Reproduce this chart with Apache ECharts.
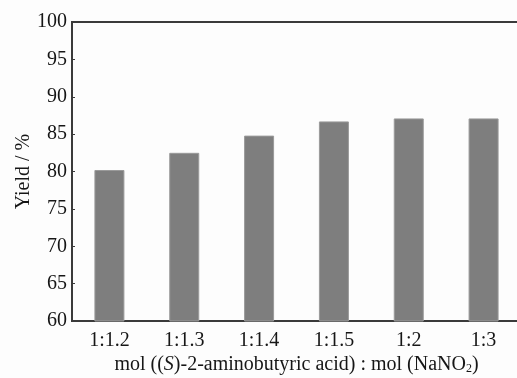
<!DOCTYPE html>
<html>
<head>
<meta charset="utf-8">
<script src="https://cdn.jsdelivr.net/npm/echarts@6/dist/echarts.min.js"></script>
<style>
  html, body { margin: 0; padding: 0; background: #fdfdfd; }
  #chart { width: 517px; height: 378px; }
</style>
</head>
<body>
<div id="chart"></div>
<script>
// ratio mol((S)-2-aminobutyric acid) : mol(NaNO2)
const ratios = ['1:1.2', '1:1.3', '1:1.4', '1:1.5', '1:2', '1:3'];
const yields = [80.2, 82.5, 84.8, 86.7, 87.1, 87.1];

const serif = '"Liberation Serif", "DejaVu Serif", serif';
const ink = '#161616';

const chart = echarts.init(document.getElementById('chart'));

const option = {
    backgroundColor: '#fdfdfd',
    animation: false,
    grid: {
        left: 72, top: 22, right: -4, bottom: 57,
        containLabel: false, outerBoundsMode: 'none',
        show: true, borderColor: '#3a3a3a', borderWidth: 2, backgroundColor: 'transparent'
    },
    xAxis: {
        type: 'category',
        data: ratios,
        axisLine: { show: true, lineStyle: { color: '#3a3a3a', width: 2 } },
        axisTick: { show: false },
        axisLabel: { color: ink, fontFamily: serif, fontSize: 20, margin: 10 },
        name: '{n|mol ((}{i|S}{n|)-2-aminobutyric acid) : mol (NaNO}{s|2}{n|)}',
        nameLocation: 'middle',
        nameGap: 33,
        nameMoveOverlap: false,
        nameTextStyle: {
            rich: {
                n: { fontFamily: serif, fontSize: 20, color: ink },
                i: { fontFamily: serif, fontSize: 20, color: ink, fontStyle: 'italic' },
                s: { fontFamily: serif, fontSize: 12, color: ink, padding: [9, 0, 0, 0] }
            }
        }
    },
    yAxis: {
        type: 'value',
        min: 60,
        max: 100,
        interval: 5,
        name: 'Yield / %',
        nameLocation: 'middle',
        nameGap: 38,
        nameMoveOverlap: false,
        nameTextStyle: { fontFamily: serif, fontSize: 20, color: ink },
        axisLine: { show: true, lineStyle: { color: '#3a3a3a', width: 2 } },
        axisTick: { show: true, inside: true, length: 3, lineStyle: { color: '#3a3a3a' } },
        axisLabel: { color: ink, fontFamily: serif, fontSize: 20, margin: 5 },
        splitLine: { show: false }
    },
    series: [{
        type: 'bar',
        data: yields,
        barWidth: 30,
        itemStyle: { color: '#7e7e7e', borderColor: '#9a9a9a', borderWidth: 1 }
    }]
};

chart.setOption(option);
</script>
</body>
</html>
